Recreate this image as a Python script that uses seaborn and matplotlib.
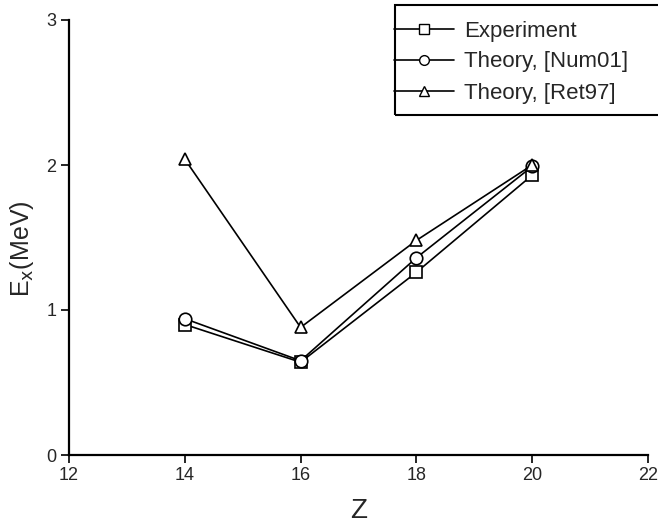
import matplotlib
matplotlib.use("Agg")
import matplotlib.pyplot as plt
import seaborn as sns
import pandas as pd
from matplotlib.lines import Line2D
from matplotlib.patches import Rectangle

Z = [14, 16, 18, 20]
experiment = [0.90, 0.64, 1.26, 1.93]
theory_num01 = [0.94, 0.65, 1.36, 1.99]
theory_ret97 = [2.04, 0.88, 1.48, 2.00]
labels = ["Experiment", "Theory, [Num01]", "Theory, [Ret97]"]

rows = []
for lab, vals in zip(labels, [experiment, theory_num01, theory_ret97]):
    for z, v in zip(Z, vals):
        rows.append({"Z": z, "E": v, "series": lab})
df = pd.DataFrame(rows)

sns.set_theme(style="ticks")
plt.rcParams['font.family'] = ['Liberation Sans', 'DejaVu Sans']

W, H = 658, 526
fig = plt.figure(figsize=(W/100, H/100), dpi=100)
ax = fig.add_axes([69/W, 1 - 455/H, (648-69)/W, (455-20)/H])

sns.lineplot(data=df, x="Z", y="E", hue="series", style="series",
             palette=["black"]*3, markers={"Experiment": "s", "Theory, [Num01]": "o", "Theory, [Ret97]": "^"},
             dashes=False, markersize=9, markerfacecolor="white", markeredgecolor="black",
             markeredgewidth=1.2, linewidth=1.2, ax=ax, legend=False)

ax.set_xlim(12, 22)
ax.set_ylim(0, 3)
ax.set_xticks([12, 14, 16, 18, 20, 22])
ax.set_yticks([0, 1, 2, 3])
ax.tick_params(labelsize=13, length=6, width=1.2, direction="out", color="black", pad=3)
for s in ["left", "bottom"]:
    ax.spines[s].set_linewidth(1.6)
    ax.spines[s].set_color("black")
sns.despine(ax=ax)
ax.set_xlabel("Z", fontsize=20, labelpad=10)
ax.set_ylabel(r"E$_\mathrm{x}$(MeV)", fontsize=18)
ax.yaxis.set_label_coords(-33/579, 0.475)

mk = ["s", "o", "^"]
handles = [Line2D([0], [0], color="black", lw=1.2, marker=m, markersize=7,
                  markerfacecolor="white", markeredgecolor="black") for m in mk]
leg = fig.legend(handles, labels, loc="center left", bbox_to_anchor=(383/W, 1 - 62/H),
                 fontsize=16, frameon=False, borderpad=0.5,
                 handlelength=2.7, handletextpad=0.45, labelspacing=0.45, borderaxespad=0)
fig.patches.append(Rectangle((395/W, 1 - 115/H), 300/W, 110/H, transform=fig.transFigure,
                             fill=False, edgecolor="black", linewidth=1.5, clip_on=False))

fig.savefig("out.png", dpi=100)
